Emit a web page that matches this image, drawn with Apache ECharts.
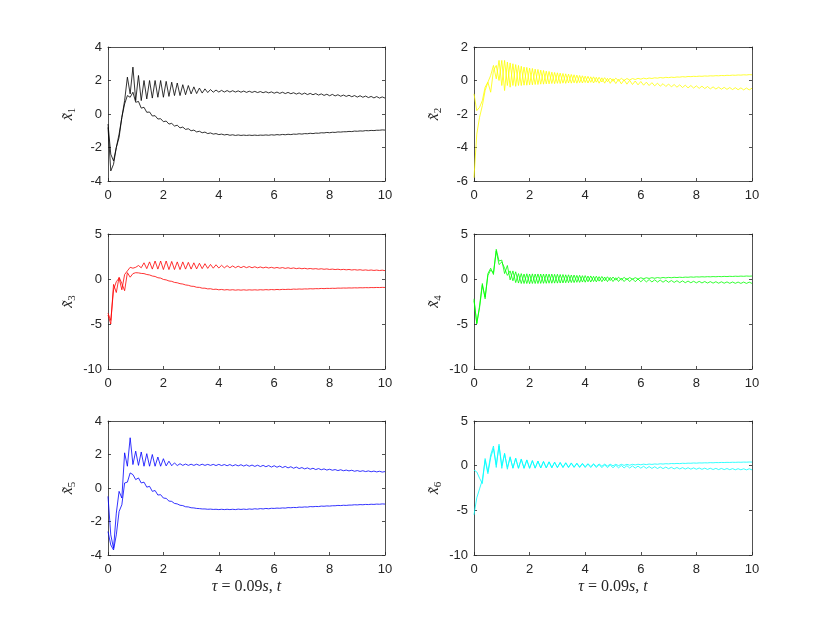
<!DOCTYPE html>
<html>
<head>
<meta charset="utf-8">
<script src="https://cdn.jsdelivr.net/npm/echarts@6/dist/echarts.min.js"></script>
<style>
  html, body { margin: 0; padding: 0; background: #fff; }
  #main { width: 830px; height: 623px; }
</style>
</head>
<body>
<div id="main"></div>
<script>
// 时间轴 0 ~ 10, 步长 0.1
var t = [];
for (var i = 0; i <= 100; i++) t.push(Math.round(i) / 10);

// x1 (black)
var x1a = [-0.8,-3.4,-3.0,-2.0,-1.2,-0.2,0.8,2.2,1.2,2.8,
  0.8,2.3,0.8,2.0,0.9,2.0,0.95,2.0,1.0,2.0,
  1.0,1.95,1.05,1.9,1.1,1.85,1.1,1.75,1.15,1.7,
  1.2,1.62,1.22,1.55,1.25,1.5,1.28,1.46,1.3,1.43,
  1.31,1.41,1.31,1.4,1.31,1.39,1.31,1.38,1.3,1.37,
  1.29,1.36,1.29,1.35,1.28,1.34,1.27,1.33,1.26,1.32,
  1.24,1.31,1.23,1.3,1.22,1.29,1.21,1.27,1.19,1.26,
  1.17,1.25,1.16,1.23,1.15,1.22,1.13,1.2,1.11,1.18,
  1.09,1.17,1.08,1.15,1.06,1.13,1.05,1.12,1.03,1.1,
  1.01,1.09,1.0,1.07,0.98,1.05,0.96,1.04,0.95,1.02,
  0.95];
var x1b = [-0.6,-2.4,-2.8,-2.0,-1.4,-0.2,0.6,1.1,1.0,1.3,
  0.7,0.75,0.35,0.4,0.1,0.12,-0.12,-0.1,-0.3,-0.28,
  -0.46,-0.42,-0.6,-0.56,-0.72,-0.67,-0.83,-0.78,-0.92,-0.88,
  -1.0,-0.96,-1.07,-1.03,-1.12,-1.08,-1.17,-1.13,-1.2,-1.17,
  -1.23,-1.2,-1.25,-1.22,-1.27,-1.24,-1.28,-1.25,-1.28,-1.26,
  -1.28,-1.26,-1.28,-1.26,-1.28,-1.26,-1.27,-1.25,-1.27,-1.24,
  -1.26,-1.23,-1.25,-1.22,-1.24,-1.21,-1.23,-1.2,-1.21,-1.18,
  -1.2,-1.17,-1.18,-1.15,-1.17,-1.14,-1.15,-1.12,-1.13,-1.1,
  -1.12,-1.09,-1.1,-1.07,-1.08,-1.06,-1.06,-1.04,-1.05,-1.02,
  -1.03,-1.01,-1.02,-0.99,-1.0,-0.98,-0.99,-0.97,-0.97,-0.95,
  -0.96];

// x2 (yellow)
var x2a = [-5.8,-3.2,-2.2,-1.5,-0.6,-0.1,0.3,0.9,0.1,1.2,
  -0.3,1.2,-0.3,1.05,-0.3,0.95,-0.3,0.85,-0.28,0.78,
  -0.26,0.72,-0.24,0.66,-0.22,0.6,-0.2,0.54,-0.18,0.48,
  -0.17,0.44,-0.16,0.4,-0.15,0.36,-0.14,0.32,-0.13,0.28,
  -0.12,0.25,-0.11,0.22,-0.1,0.19,-0.09,0.17,-0.07,0.15,
  -0.05,0.14,-0.02,0.13,0.0,0.12,0.03,0.12,0.06,0.13,
  0.08,0.14,0.1,0.15,0.12,0.16,0.14,0.18,0.15,0.19,
  0.17,0.2,0.18,0.21,0.2,0.23,0.21,0.24,0.23,0.25,
  0.24,0.26,0.25,0.27,0.26,0.28,0.27,0.29,0.28,0.3,
  0.29,0.31,0.3,0.32,0.31,0.33,0.32,0.34,0.33,0.35,
  0.34];
var x2b = [-0.8,-1.8,-1.6,-1.2,-0.4,-0.1,-0.7,0.6,0.9,0.0,
  1.2,-0.6,1.1,-0.4,1.0,-0.35,0.9,-0.3,0.8,-0.28,
  0.74,-0.26,0.68,-0.24,0.62,-0.22,0.56,-0.2,0.5,-0.19,
  0.46,-0.18,0.42,-0.17,0.38,-0.16,0.34,-0.16,0.3,-0.15,
  0.26,-0.15,0.22,-0.15,0.19,-0.16,0.16,-0.16,0.13,-0.17,
  0.1,-0.18,0.07,-0.2,0.04,-0.22,0.01,-0.24,-0.03,-0.26,
  -0.06,-0.28,-0.1,-0.3,-0.13,-0.32,-0.16,-0.34,-0.19,-0.36,
  -0.21,-0.38,-0.24,-0.4,-0.26,-0.42,-0.28,-0.44,-0.3,-0.45,
  -0.32,-0.47,-0.34,-0.48,-0.36,-0.5,-0.38,-0.51,-0.4,-0.52,
  -0.41,-0.53,-0.42,-0.54,-0.43,-0.55,-0.44,-0.56,-0.45,-0.56,
  -0.46];

// x3 (red)
var x3a = [-3.8,-4.6,-1.2,-0.3,0.1,-1.2,0.5,0.9,1.3,1.2,
  1.3,1.5,1.25,1.8,1.15,1.9,1.1,2.0,1.1,2.0,
  1.05,2.0,1.05,1.95,1.05,1.9,1.05,1.9,1.1,1.85,
  1.1,1.8,1.12,1.75,1.15,1.7,1.18,1.62,1.2,1.58,
  1.22,1.52,1.24,1.48,1.25,1.45,1.26,1.42,1.26,1.4,
  1.26,1.38,1.25,1.36,1.24,1.34,1.23,1.32,1.22,1.3,
  1.21,1.28,1.2,1.27,1.18,1.25,1.17,1.23,1.15,1.21,
  1.14,1.19,1.12,1.17,1.11,1.15,1.09,1.14,1.08,1.12,
  1.06,1.1,1.05,1.09,1.03,1.07,1.02,1.06,1.0,1.04,
  0.99,1.03,0.97,1.01,0.96,1.0,0.95,0.99,0.94,0.98,
  0.93];
var x3b = [-4.0,-5.0,-0.6,-1.5,0.2,-0.5,-1.3,0.7,0.2,0.6,
  0.7,0.68,0.62,0.6,0.5,0.45,0.33,0.28,0.14,0.1,
  -0.05,-0.1,-0.22,-0.26,-0.38,-0.42,-0.52,-0.56,-0.66,-0.7,
  -0.8,-0.82,-0.92,-0.93,-1.02,-1.02,-1.1,-1.08,-1.16,-1.13,
  -1.2,-1.16,-1.22,-1.18,-1.23,-1.19,-1.24,-1.2,-1.24,-1.2,
  -1.24,-1.2,-1.23,-1.2,-1.23,-1.19,-1.22,-1.18,-1.21,-1.17,
  -1.2,-1.16,-1.19,-1.15,-1.17,-1.14,-1.16,-1.12,-1.14,-1.11,
  -1.13,-1.1,-1.11,-1.08,-1.1,-1.07,-1.08,-1.05,-1.07,-1.04,
  -1.05,-1.03,-1.04,-1.01,-1.02,-1.0,-1.01,-0.99,-1.0,-0.98,
  -0.99,-0.97,-0.98,-0.96,-0.97,-0.95,-0.96,-0.94,-0.95,-0.93,
  -0.94];

// x4 (green)
var x4a = [-2.2,-5.0,-3.0,-0.5,-2.2,0.6,1.2,0.5,3.3,2.0,
  2.1,0.6,1.5,-0.1,0.9,-0.4,0.6,-0.5,0.55,-0.5,
  0.55,-0.5,0.55,-0.5,0.55,-0.48,0.55,-0.47,0.55,-0.46,
  0.53,-0.45,0.5,-0.42,0.47,-0.4,0.44,-0.37,0.41,-0.34,
  0.38,-0.31,0.34,-0.28,0.31,-0.24,0.28,-0.2,0.25,-0.17,
  0.22,-0.13,0.2,-0.1,0.18,-0.06,0.16,-0.03,0.15,0.0,
  0.14,0.03,0.14,0.06,0.15,0.08,0.16,0.1,0.17,0.12,
  0.18,0.14,0.19,0.16,0.2,0.17,0.21,0.19,0.23,0.2,
  0.24,0.22,0.25,0.23,0.26,0.24,0.27,0.25,0.28,0.26,
  0.29,0.27,0.3,0.28,0.31,0.29,0.32,0.3,0.33,0.31,
  0.33];
var x4b = [-2.4,-4.9,-3.2,-0.7,-2.0,0.4,1.0,0.7,3.1,1.6,
  1.9,1.2,0.4,0.9,-0.2,0.8,-0.45,0.6,-0.5,0.58,
  -0.52,0.57,-0.5,0.56,-0.49,0.55,-0.48,0.54,-0.47,0.52,
  -0.46,0.5,-0.44,0.47,-0.42,0.44,-0.4,0.4,-0.38,0.37,
  -0.36,0.33,-0.34,0.3,-0.32,0.26,-0.3,0.22,-0.29,0.18,
  -0.28,0.14,-0.28,0.1,-0.28,0.06,-0.29,0.03,-0.3,0.0,
  -0.31,-0.03,-0.32,-0.06,-0.33,-0.09,-0.34,-0.12,-0.36,-0.14,
  -0.37,-0.17,-0.38,-0.19,-0.4,-0.21,-0.41,-0.23,-0.42,-0.25,
  -0.43,-0.26,-0.44,-0.28,-0.45,-0.29,-0.46,-0.3,-0.47,-0.31,
  -0.47,-0.32,-0.48,-0.33,-0.48,-0.34,-0.49,-0.34,-0.49,-0.35,
  -0.49];

// x5 (blue)
var x5a = [-0.5,-2.8,-3.6,-1.5,-0.2,-0.6,2.1,1.3,3.0,1.4,
  2.2,1.35,2.15,1.3,2.05,1.3,2.0,1.3,1.85,1.3,
  1.75,1.32,1.6,1.33,1.5,1.34,1.45,1.35,1.43,1.35,
  1.42,1.35,1.42,1.35,1.42,1.35,1.41,1.35,1.41,1.34,
  1.41,1.34,1.4,1.33,1.4,1.32,1.39,1.32,1.39,1.31,
  1.38,1.3,1.37,1.29,1.36,1.28,1.35,1.27,1.34,1.25,
  1.33,1.24,1.31,1.22,1.29,1.2,1.27,1.18,1.25,1.16,
  1.22,1.14,1.2,1.12,1.18,1.1,1.16,1.09,1.14,1.07,
  1.12,1.06,1.1,1.04,1.09,1.03,1.07,1.02,1.06,1.0,
  1.04,0.99,1.03,0.98,1.02,0.97,1.01,0.96,1.0,0.95,
  0.98];
var x5b = [-2.6,-3.4,-3.7,-2.8,-1.4,-1.0,0.3,0.35,0.9,0.8,
  0.5,0.6,0.3,0.35,0.05,0.1,-0.2,-0.15,-0.42,-0.4,
  -0.6,-0.62,-0.78,-0.8,-0.92,-0.95,-1.03,-1.05,-1.12,-1.13,
  -1.18,-1.19,-1.22,-1.23,-1.25,-1.25,-1.27,-1.26,-1.28,-1.27,
  -1.29,-1.27,-1.29,-1.27,-1.29,-1.27,-1.29,-1.26,-1.28,-1.26,
  -1.28,-1.25,-1.27,-1.24,-1.26,-1.23,-1.25,-1.22,-1.24,-1.21,
  -1.22,-1.2,-1.21,-1.19,-1.2,-1.17,-1.18,-1.16,-1.17,-1.14,
  -1.15,-1.13,-1.14,-1.11,-1.12,-1.1,-1.11,-1.08,-1.09,-1.07,
  -1.08,-1.06,-1.06,-1.04,-1.05,-1.03,-1.04,-1.02,-1.02,-1.0,
  -1.01,-0.99,-1.0,-0.98,-0.99,-0.97,-0.98,-0.96,-0.97,-0.95,
  -0.96];

// x6 (cyan)
var x6a = [-0.5,-0.7,-1.4,-2.0,0.8,-0.7,1.2,2.2,-0.2,2.4,
  -0.3,1.4,-0.4,1.0,-0.3,0.85,-0.3,0.75,-0.3,0.65,
  -0.3,0.58,-0.28,0.52,-0.26,0.48,-0.24,0.44,-0.22,0.4,
  -0.2,0.37,-0.18,0.34,-0.17,0.31,-0.15,0.28,-0.13,0.25,
  -0.12,0.23,-0.1,0.21,-0.08,0.19,-0.06,0.17,-0.04,0.16,
  -0.02,0.15,0.0,0.15,0.03,0.15,0.05,0.15,0.08,0.16,
  0.1,0.17,0.12,0.18,0.14,0.19,0.16,0.21,0.18,0.22,
  0.2,0.24,0.22,0.25,0.23,0.27,0.25,0.28,0.27,0.3,
  0.28,0.31,0.3,0.32,0.31,0.34,0.32,0.35,0.34,0.36,
  0.35,0.37,0.36,0.38,0.37,0.39,0.38,0.4,0.39,0.41,
  0.4];
var x6b = [-5.5,-3.6,-2.6,-1.6,0.6,-0.9,0.9,1.9,0.1,2.2,
  0.0,1.3,-0.2,0.9,-0.25,0.8,-0.28,0.7,-0.28,0.62,
  -0.28,0.55,-0.27,0.5,-0.26,0.45,-0.25,0.41,-0.24,0.37,
  -0.23,0.33,-0.22,0.3,-0.22,0.27,-0.21,0.24,-0.21,0.21,
  -0.21,0.18,-0.21,0.15,-0.21,0.12,-0.22,0.1,-0.22,0.07,
  -0.23,0.04,-0.24,0.02,-0.25,0.0,-0.26,-0.03,-0.27,-0.05,
  -0.28,-0.07,-0.3,-0.1,-0.31,-0.12,-0.32,-0.14,-0.33,-0.16,
  -0.34,-0.18,-0.36,-0.2,-0.37,-0.22,-0.38,-0.23,-0.39,-0.25,
  -0.4,-0.26,-0.41,-0.28,-0.42,-0.29,-0.43,-0.3,-0.44,-0.31,
  -0.44,-0.32,-0.45,-0.33,-0.46,-0.34,-0.46,-0.35,-0.47,-0.35,
  -0.47];

var yRanges = [[-4, 4, 2], [-6, 2, 2], [-10, 5, 5], [-10, 5, 5], [-4, 4, 2], [-10, 5, 5]];
var yNames = ['1', '2', '3', '4', '5', '6'];

var panels = [
  { a: x1a, b: x1b, color: '#000000' },
  { a: x2a, b: x2b, color: '#ffff00' },
  { a: x3a, b: x3b, color: '#ff0000' },
  { a: x4a, b: x4b, color: '#00ff00' },
  { a: x5a, b: x5b, color: '#0000ff' },
  { a: x6a, b: x6b, color: '#00ffff' }
];

// 子图布局
var lefts = [108, 474];
var widths = [277, 278];
var tops = [47, 234, 421];
var heights = [134, 135, 134];

var axisColor = '#262626';
var mathFont = 'Liberation Serif, DejaVu Serif, serif';
var labelFont = { color: axisColor, fontSize: 13, fontFamily: 'Liberation Sans, Arial, sans-serif' };

function pairs(arr) {
  return arr.map(function (v, k) { return [t[k], v]; });
}

var grid = [], xAxis = [], yAxis = [], series = [];
panels.forEach(function (p, n) {
  var col = n % 2, row = Math.floor(n / 2);
  grid.push({ left: lefts[col], top: tops[row], width: widths[col], height: heights[row] });
  var r = yRanges[n];
  var base = {
    gridIndex: n,
    axisLine: { show: true, onZero: false, lineStyle: { color: axisColor, width: 0.8 } },
    axisTick: { show: true, inside: true, length: 3, lineStyle: { color: axisColor, width: 0.8 } },
    splitLine: { show: false }
  };
  var xa = Object.assign({}, base, {
    type: 'value', min: 0, max: 10, interval: 2, position: 'bottom',
    axisLabel: Object.assign({ margin: 8 }, labelFont)
  });
  if (row === 2) {
    xa.name = '{i|τ} = 0.09{i|s}, {i|t}';
    xa.nameLocation = 'middle';
    xa.nameGap = 24;
    xa.nameTextStyle = {
      color: axisColor, fontSize: 16, fontFamily: mathFont,
      rich: { i: { fontStyle: 'italic', fontSize: 16, fontFamily: mathFont, color: axisColor } }
    };
  }
  xAxis.push(xa);
  xAxis.push(Object.assign({}, base, {
    type: 'value', min: 0, max: 10, interval: 2, position: 'top',
    axisLabel: { show: false }
  }));
  yAxis.push(Object.assign({}, base, {
    type: 'value', min: r[0], max: r[1], interval: r[2], position: 'left',
    axisLabel: Object.assign({ margin: 6 }, labelFont),
    name: '{v|x\u0303}{s|' + yNames[n] + '}',
    nameLocation: 'middle',
    nameGap: 30,
    nameRotate: 90,
    nameTextStyle: {
      color: axisColor,
      rich: {
        v: { fontSize: 16, fontStyle: 'italic', fontFamily: mathFont, color: axisColor, lineHeight: 20, verticalAlign: 'middle' },
        s: { fontSize: 11, fontFamily: mathFont, color: axisColor, lineHeight: 20, verticalAlign: 'bottom' }
      }
    }
  }));
  yAxis.push(Object.assign({}, base, {
    type: 'value', min: r[0], max: r[1], interval: r[2], position: 'right',
    axisLabel: { show: false }
  }));
  [p.a, p.b].forEach(function (arr) {
    series.push({
      type: 'line',
      xAxisIndex: n * 2,
      yAxisIndex: n * 2,
      data: pairs(arr),
      showSymbol: false,
      symbol: 'none',
      lineStyle: { color: p.color, width: 0.8 },
      animation: false
    });
  });
});

var chart = echarts.init(document.getElementById('main'));
chart.setOption({
  backgroundColor: '#ffffff',
  animation: false,
  grid: grid,
  xAxis: xAxis,
  yAxis: yAxis,
  series: series
});
</script>
</body>
</html>
